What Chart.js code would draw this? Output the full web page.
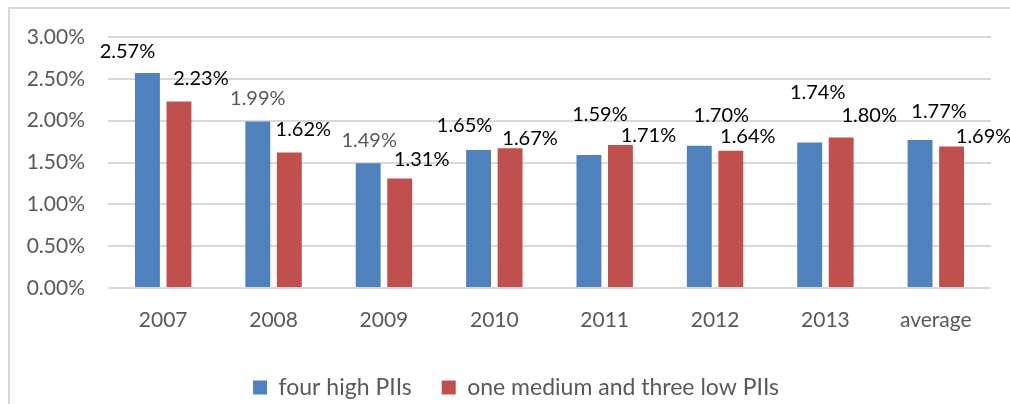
<!DOCTYPE html>
<html><head><meta charset="utf-8">
<script src="https://cdn.jsdelivr.net/npm/chart.js@4.4.1/dist/chart.umd.min.js"></script>
<style>
html,body{margin:0;padding:0;background:#fff;overflow:hidden;width:1010px;height:404px;}
#frame{position:absolute;left:8px;top:7px;width:1100px;height:500px;border:2px solid #d9d9d9;box-sizing:border-box;}
#wrap{position:absolute;left:0;top:0;width:1032px;height:409px;}
</style></head><body>
<div id="frame"></div>
<div id="wrap"><canvas id="c" width="1032" height="409"></canvas></div>
<script>
const categories = ['2007','2008','2009','2010','2011','2012','2013','average'];
const seriesNames = ['four high PIIs','one medium and three low PIIs'];
const fourHighPIIs = [2.57,1.99,1.49,1.65,1.59,1.70,1.74,1.77];
const oneMediumThreeLow = [2.23,1.62,1.31,1.67,1.71,1.64,1.80,1.69];
const yTickValues = [0,0.5,1,1.5,2,2.5,3];

// label nudges (dx, dy from bar top centre to label centre)
const labelNudges = [
  [[-20,-21],[0,-23],[1,-23],[-14,-24],[11,-40],[22,-30],[8,-50],[19,-28]],
  [[22,-23],[14,-23],[22,-19],[20,-10],[28,-9],[17,-14],[28,-22],[32,-10]]
];
const labelColors = [
  ['#000','#595959','#595959','#000','#000','#000','#000','#000'],
  ['#000','#000','#000','#000','#000','#000','#000','#000']
];

const FONT = 'Lato';
const GREY = '#595959';

const dataLabels = {
  id:'dataLabels',
  afterDatasetsDraw(chart){
    const ctx = chart.ctx;
    ctx.save();
    ctx.font = '20px ' + FONT;
    ctx.textAlign = 'center';
    ctx.textBaseline = 'middle';
    chart.data.datasets.forEach((ds, i) => {
      const meta = chart.getDatasetMeta(i);
      meta.data.forEach((el, j) => {
        const n = labelNudges[i][j];
        ctx.fillStyle = labelColors[i][j];
        ctx.fillText(ds.data[j].toFixed(2) + '%', el.x + n[0], el.y + n[1]);
      });
    });
    ctx.restore();
  }
};

new Chart(document.getElementById('c'), {
  type:'bar',
  data:{
    labels:categories,
    datasets:[
      {label:seriesNames[0], data:fourHighPIIs, backgroundColor:'#4F81BD', barPercentage:0.79, categoryPercentage:0.571},
      {label:seriesNames[1], data:oneMediumThreeLow, backgroundColor:'#C0504D', barPercentage:0.79, categoryPercentage:0.571}
    ]
  },
  options:{
    responsive:false,
    animation:false,
    devicePixelRatio:1,
    layout:{padding:{top:37,left:0,right:0,bottom:0}},
    plugins:{
      tooltip:{enabled:false},
      legend:{
        position:'bottom',
        labels:{font:{family:FONT,size:23}, color:GREY, boxWidth:14, boxHeight:14, padding:30}
      }
    },
    scales:{
      x:{
        grid:{display:false},
        border:{display:false},
        ticks:{font:{family:FONT,size:21}, color:GREY, padding:12},
        afterFit(s){ s.height = 58; }
      },
      y:{
        min:0, max:3,
        afterBuildTicks(s){ s.ticks = yTickValues.map(v => ({value:v})); },
        grid:{color:'#d9d9d9', lineWidth:2, drawTicks:false},
        border:{display:false},
        ticks:{font:{family:FONT,size:21}, color:GREY, padding:23, callback:v => Number(v).toFixed(2) + '%'},
        afterFit(s){ s.width = 108; }
      },
      yR:{
        type:'linear', position:'right', display:true,
        grid:{display:false, drawOnChartArea:false, drawTicks:false},
        border:{display:false},
        ticks:{display:false},
        afterFit(s){ s.width = 41; }
      }
    }
  },
  plugins:[dataLabels]
});
</script>
</body></html>
